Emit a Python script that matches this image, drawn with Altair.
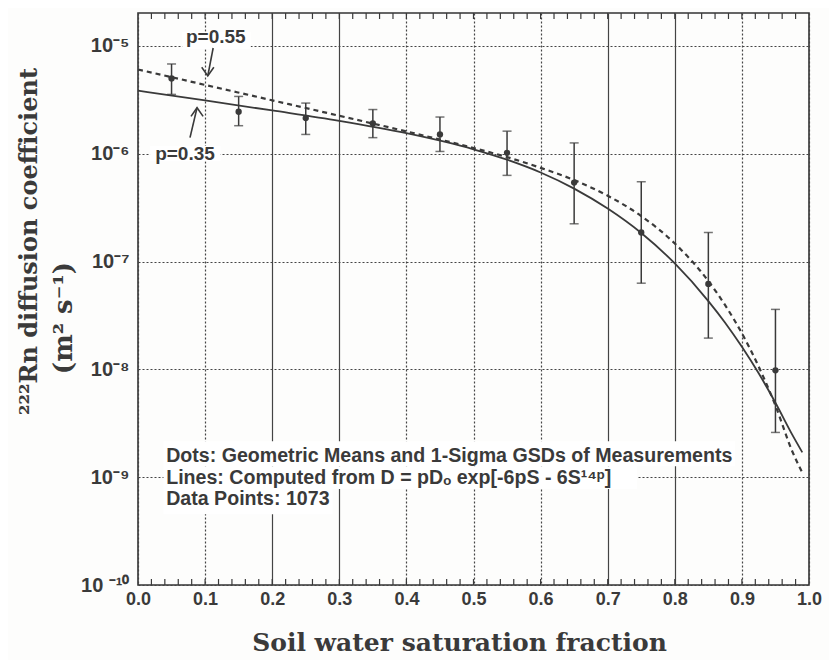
import json
import altair as alt
import pandas as pd

# ---------------- data ----------------
# measured geometric means and 1-sigma GSD bounds
pt_s = [0.05, 0.15, 0.25, 0.35, 0.45, 0.55, 0.65, 0.75, 0.85, 0.95]
pt_mean = [5.0e-6, 2.45e-6, 2.14e-6, 1.91e-6, 1.51e-6, 1.02e-6, 5.4e-7, 1.86e-7, 6.2e-8, 9.8e-9]
pt_hi = [6.8e-6, 3.4e-6, 2.95e-6, 2.57e-6, 2.19e-6, 1.62e-6, 1.26e-6, 5.5e-7, 1.86e-7, 3.6e-8]
pt_lo = [3.55e-6, 1.82e-6, 1.51e-6, 1.41e-6, 1.05e-6, 6.3e-7, 2.24e-7, 6.3e-8, 1.95e-8, 2.6e-9]

# computed curves (solid p=0.35, dashed p=0.55)
s_035 = [0.0, 0.1, 0.2, 0.3, 0.4, 0.5, 0.55, 0.6, 0.65, 0.7, 0.75, 0.8, 0.85, 0.875, 0.9, 0.925, 0.95, 0.975, 0.99]
d_035 = [3.85e-6, 3.12e-6, 2.52e-6, 2.02e-6, 1.55e-6, 1.10e-6, 8.8e-7, 6.7e-7, 4.75e-7, 3.1e-7, 1.84e-7,
         9.6e-8, 4.3e-8, 2.71e-8, 1.62e-8, 9.2e-9, 4.9e-9, 2.48e-9, 1.7e-9]
s_055 = [0.0, 0.1, 0.2, 0.3, 0.4, 0.5, 0.55, 0.6, 0.65, 0.7, 0.75, 0.8, 0.85, 0.875, 0.9, 0.925, 0.95, 0.975, 0.99]
d_055 = [6.05e-6, 4.35e-6, 3.13e-6, 2.25e-6, 1.61e-6, 1.13e-6, 9.3e-7, 7.4e-7, 5.7e-7, 4.08e-7, 2.64e-7,
         1.47e-7, 6.6e-8, 3.94e-8, 2.16e-8, 1.06e-8, 4.62e-9, 1.74e-9, 1.1e-9]

# axes
x_ticks = [0.0, 0.1, 0.2, 0.3, 0.4, 0.5, 0.6, 0.7, 0.8, 0.9, 1.0]
x_solid_grid = [0.2, 0.3, 0.7, 0.8]
x_minor = [round(i * 0.02, 2) for i in range(1, 50)]
y_ticks = [1e-10, 1e-9, 1e-8, 1e-7, 1e-6, 1e-5]
y_tick_labels = ["10 ⁻¹⁰", "10⁻⁹", "10⁻⁸", "10⁻⁷", "10⁻⁶", "10⁻⁵"]

x_title = "Soil water saturation fraction"
y_title_1 = "²²²Rn diffusion coefficient"
y_title_2 = "(m² s⁻¹)"

# annotation texts
p_labels = ["p=0.55", "p=0.35"]
legend_lines = [
    "Dots: Geometric Means and 1-Sigma GSDs of Measurements",
    "Lines: Computed from D = pDₒ exp[-6pS - 6S¹⁴ᵖ]",
    "Data Points: 1073",
]

# ---------------- annotation placement (data coordinates) ----------------
p_lab_x = [0.116, 0.070]
p_lab_y = [1.21e-5, 1.0e-6]
p_box = pd.DataFrame({"x": [0.066, 0.018], "x2": [0.168, 0.123],
                      "y": [1.35e-5, 1.18e-6], "y2": [9.3e-6, 8.5e-7]})
arrows = pd.DataFrame({"x": [0.112, 0.0775], "x2": [0.104, 0.088],
                       "y": [9.57e-6, 1.41e-6], "y2": [5.27e-6, 2.67e-6]})
heads_down = pd.DataFrame({"x": [0.104], "y": [5.27e-6]})
heads_up = pd.DataFrame({"x": [0.088], "y": [2.67e-6]})

leg_x = 0.042
leg_y = [1.56e-9, 9.8e-10, 6.25e-10]
leg_box = pd.DataFrame({"x": [0.038, 0.038, 0.038], "x2": [0.89, 0.744, 0.29],
                        "y": [2.15e-9, 1.26e-9, 7.75e-10], "y2": [1.26e-9, 7.75e-10, 4.54e-10]})

# ---------------- styling ----------------
INK = "#3a3a3a"
SANS = "Liberation Sans"
SERIF = "DejaVu Serif"

xscale = alt.Scale(domain=[0, 1.0], nice=False, zero=False)
yscale = alt.Scale(type="log", domain=[1e-10, 2.02e-5], nice=False)

label_expr = json.dumps(y_tick_labels, ensure_ascii=False) + "[round(log(datum.value)/LN10)+10]"
solid_test = " || ".join(f"abs(datum.value-{v})<0.001" for v in x_solid_grid)

x_axis = alt.Axis(
    values=x_ticks, format=".1f", grid=True, gridColor="#444", gridWidth=1.2,
    gridDash={"condition": {"test": solid_test, "value": [1, 0]}, "value": [2, 2]},
    ticks=False, domain=False, labelFlush=False, labelOverlap=False,
    labelFont=SANS, labelFontSize=18, labelFontWeight="bold", labelColor=INK, labelPadding=5,
    title=x_title, titleFont=SERIF, titleFontSize=25, titleFontWeight="bold", titleColor=INK,
    titleX=321, titleY=57, titleBaseline="middle",
)
y_axis = alt.Axis(
    values=y_ticks, labelExpr=label_expr, grid=True, gridColor="#444", gridWidth=1.2, gridDash=[2, 2],
    ticks=False, domain=False, labelFlush=False, labelOverlap=False,
    labelFont=SANS, labelFontSize=20, labelFontWeight="bold", labelColor=INK, labelPadding=9,
    title=y_title_1, titleFont=SERIF, titleFontSize=24,
    titleFontWeight="bold", titleColor=INK, titleAngle=270, titleAlign="center",
    titleBaseline="middle", titleX=-109, titleY=228,
)

pts = pd.DataFrame({"s": pt_s, "m": pt_mean, "hi": pt_hi, "lo": pt_lo})
c035 = pd.DataFrame({"s": s_035, "d": d_035})
c055 = pd.DataFrame({"s": s_055, "d": d_055})


def X(f):
    return alt.X(f, scale=xscale, title=x_title)


def Y(f):
    return alt.Y(f, scale=yscale, title=y_title_1)


points = alt.Chart(pts).mark_point(shape="circle", filled=True, size=40, color=INK, opacity=1).encode(
    x=alt.X("s:Q", scale=xscale, axis=x_axis), y=alt.Y("m:Q", scale=yscale, axis=y_axis))
bars = alt.Chart(pts).mark_rule(color=INK, strokeWidth=1.5).encode(
    x=X("s:Q"), y=Y("lo:Q"), y2="hi:Q")
cap_hi = alt.Chart(pts).mark_tick(orient="horizontal", size=9, thickness=1.5, color=INK).encode(
    x=X("s:Q"), y=Y("hi:Q"))
cap_lo = alt.Chart(pts).mark_tick(orient="horizontal", size=9, thickness=1.5, color=INK).encode(
    x=X("s:Q"), y=Y("lo:Q"))

line35 = alt.Chart(c035).mark_line(color=INK, strokeWidth=1.8, interpolate="monotone").encode(
    x=X("s:Q"), y=Y("d:Q"))
line55 = alt.Chart(c055).mark_line(color=INK, strokeWidth=2.2, strokeDash=[5, 4], interpolate="monotone").encode(
    x=X("s:Q"), y=Y("d:Q"))


def boxes(df):
    return alt.Chart(df).mark_rect(color="white", opacity=1).encode(
        x=X("x:Q"), x2="x2:Q", y=Y("y:Q"), y2="y2:Q")


p_text = alt.Chart(pd.DataFrame({"x": p_lab_x, "y": p_lab_y, "t": p_labels})).mark_text(
    font=SANS, fontSize=19, fontWeight="bold", color=INK, align="center", baseline="middle").encode(
    x=X("x:Q"), y=Y("y:Q"), text="t:N")

arrow_lines = alt.Chart(arrows).mark_rule(color=INK, strokeWidth=1.6).encode(
    x=X("x:Q"), x2="x2:Q", y=Y("y:Q"), y2="y2:Q")
head_dn = alt.Chart(heads_down).mark_point(shape="M-0.7,-1L0,0L0.7,-1", filled=False, size=300,
                                           strokeWidth=1.6, color=INK, opacity=1).encode(
    x=X("x:Q"), y=Y("y:Q"))
head_up = alt.Chart(heads_up).mark_point(shape="M-0.7,1L0,0L0.7,1", filled=False, size=300,
                                         strokeWidth=1.6, color=INK, opacity=1).encode(
    x=X("x:Q"), y=Y("y:Q"))

leg_text = alt.Chart(pd.DataFrame({"x": [leg_x] * 3, "y": leg_y, "t": legend_lines})).mark_text(
    font=SANS, fontSize=19.6, fontWeight="bold", color=INK, align="left", baseline="middle").encode(
    x=X("x:Q"), y=Y("y:Q"), text="t:N")

# second line of the y-axis title (unit), placed beside the first line
unit_title = alt.Chart(pd.DataFrame({"t": [y_title_2]})).mark_text(
    font=SERIF, fontSize=26, fontWeight="bold", color=INK, angle=270,
    align="center", baseline="middle").encode(
    x=alt.value(-74), y=alt.value(305), text="t:N")

minor = pd.DataFrame({"s": x_minor})
minor_bot = alt.Chart(minor).mark_rule(color=INK, strokeWidth=1.2).encode(
    x=X("s:Q"), y=alt.value(572), y2=alt.value(566))
minor_top = alt.Chart(minor).mark_rule(color=INK, strokeWidth=1.2).encode(
    x=X("s:Q"), y=alt.value(0), y2=alt.value(6))

chart = alt.layer(
    points, boxes(leg_box), boxes(p_box), line35, line55, bars, cap_hi, cap_lo,
    arrow_lines, head_dn, head_up, p_text, leg_text, unit_title, minor_bot, minor_top,
).properties(
    width=671, height=572,
    autosize=alt.AutoSizeParams(type="none"),
    padding={"left": 130, "top": 5, "right": 20, "bottom": 75},
    background="#fdfdfc",
).configure_view(stroke="#333", strokeWidth=1.6)

chart.save("out.html", embed_options={"renderer": "svg", "actions": False})
